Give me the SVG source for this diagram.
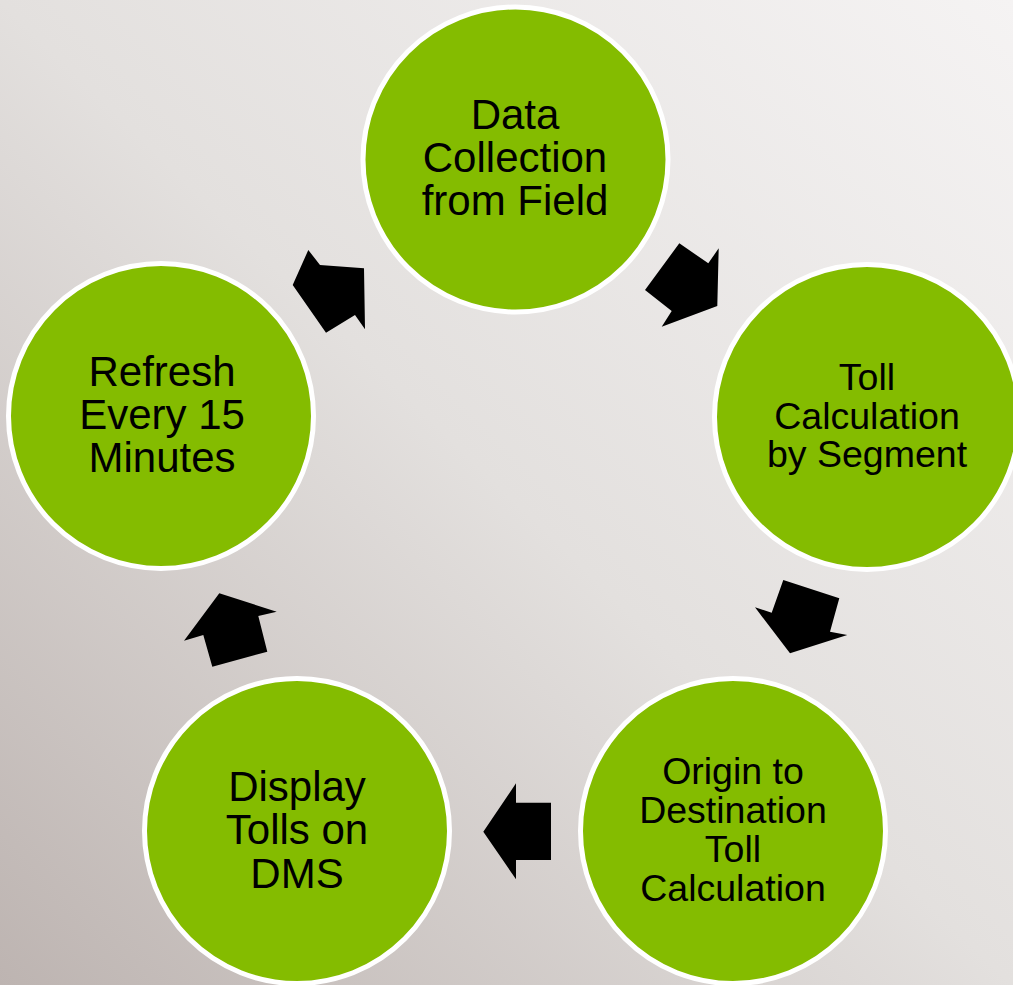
<svg xmlns="http://www.w3.org/2000/svg" width="1013" height="985" viewBox="0 0 1013 985">
  <defs>
    <linearGradient id="bg" x1="1" y1="0" x2="0" y2="1">
      <stop offset="0" stop-color="#F5F3F3"/>
      <stop offset="0.5" stop-color="#E3E0DE"/>
      <stop offset="1" stop-color="#BDB4B1"/>
    </linearGradient>
  </defs>
  <style>
    .node circle { fill: #84BC00; stroke: #FFFFFF; stroke-width: 5; }
    .node text { font-family: "Liberation Sans", Arial, sans-serif; fill: #000000; text-anchor: middle; }
    .big { font-size: 42px; }
    .small { font-size: 37.5px; }
    .arrow { fill: #000000; }
  </style>
  <rect x="0" y="0" width="1013" height="985" fill="url(#bg)"/>

  <g id="connectors">
    <polygon class="arrow" points="679.3,243.3 708.3,263.3 718.7,248.3 717.3,306 661.7,326.7 671.7,311 645,290"/>
    <polygon class="arrow" points="783.3,580 839.3,598.3 830,631.7 847.3,635 790,653.3 755,607.3 771.7,612.7"/>
    <polygon class="arrow" points="516,783.3 516,802.7 551,802.7 551,860 516,860 516,879.3 483.3,831.7"/>
    <polygon class="arrow" points="219.3,593.3 276.7,611.7 258.3,616 267.3,651.7 212.3,666.7 203.3,635 184,640.7"/>
    <polygon class="arrow" points="308.3,250 320,265 364,268.3 365,329.3 355,315 326,332.7 292.7,285"/>
  </g>

  <g id="node-data-collection" class="node">
    <circle cx="515.5" cy="159.5" r="152.5"/>
    <text class="big"><tspan x="515" y="129">Data</tspan><tspan x="515" y="172">Collection</tspan><tspan x="515" y="215">from Field</tspan></text>
  </g>

  <g id="node-toll-calculation" class="node">
    <circle cx="867" cy="417" r="152.5"/>
    <text class="small"><tspan x="867" y="390">Toll</tspan><tspan x="867" y="428.5">Calculation</tspan><tspan x="867" y="467">by Segment</tspan></text>
  </g>

  <g id="node-origin-destination" class="node">
    <circle cx="733" cy="831" r="152.5"/>
    <text class="small"><tspan x="733" y="784">Origin to</tspan><tspan x="733" y="823">Destination</tspan><tspan x="733" y="862">Toll</tspan><tspan x="733" y="901">Calculation</tspan></text>
  </g>

  <g id="node-display-tolls" class="node">
    <circle cx="297" cy="831" r="152.5"/>
    <text class="big"><tspan x="297" y="801">Display</tspan><tspan x="297" y="844">Tolls on</tspan><tspan x="297" y="888">DMS</tspan></text>
  </g>

  <g id="node-refresh" class="node">
    <circle cx="161" cy="416" r="152.5"/>
    <text class="big"><tspan x="162" y="386">Refresh</tspan><tspan x="162" y="429">Every 15</tspan><tspan x="162" y="472">Minutes</tspan></text>
  </g>
</svg>
